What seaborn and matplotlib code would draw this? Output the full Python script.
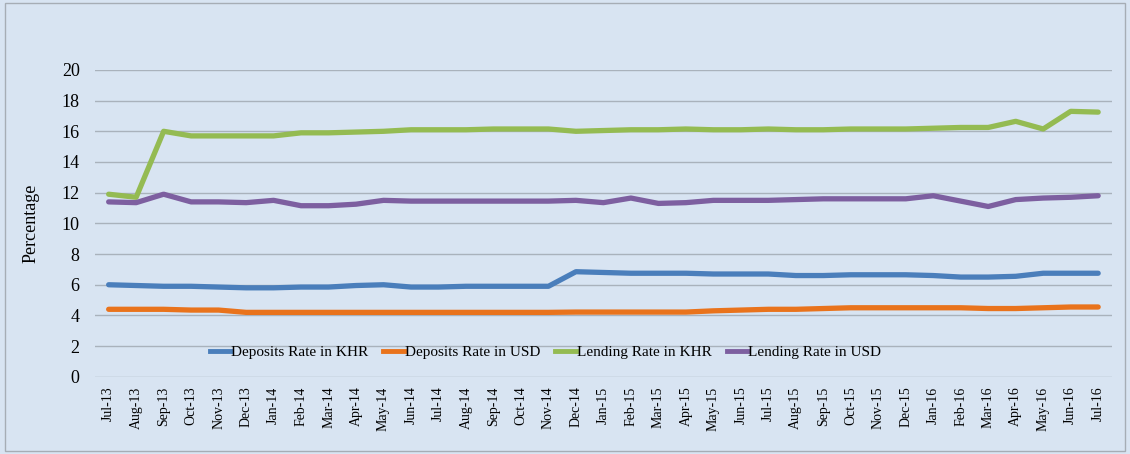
import pandas as pd
import numpy as np
import seaborn as sns
import matplotlib.pyplot as plt
from matplotlib.patches import Rectangle

# monthly labels Jul-13 .. Jul-16
months = ["Jul-13", "Aug-13", "Sep-13", "Oct-13", "Nov-13", "Dec-13",
          "Jan-14", "Feb-14", "Mar-14", "Apr-14", "May-14", "Jun-14",
          "Jul-14", "Aug-14", "Sep-14", "Oct-14", "Nov-14", "Dec-14",
          "Jan-15", "Feb-15", "Mar-15", "Apr-15", "May-15", "Jun-15",
          "Jul-15", "Aug-15", "Sep-15", "Oct-15", "Nov-15", "Dec-15",
          "Jan-16", "Feb-16", "Mar-16", "Apr-16", "May-16", "Jun-16", "Jul-16"]

deposits_khr = [6.0, 5.95, 5.9, 5.9, 5.85, 5.8, 5.8, 5.85, 5.85, 5.95, 6.0, 5.85,
                5.85, 5.9, 5.9, 5.9, 5.9, 6.85, 6.8, 6.75, 6.75, 6.75, 6.7, 6.7,
                6.7, 6.6, 6.6, 6.65, 6.65, 6.65, 6.6, 6.5, 6.5, 6.55, 6.75, 6.75, 6.75]
deposits_usd = [4.4, 4.4, 4.4, 4.35, 4.35, 4.2, 4.2, 4.2, 4.2, 4.2, 4.2, 4.2,
                4.2, 4.2, 4.2, 4.2, 4.2, 4.22, 4.22, 4.22, 4.22, 4.22, 4.3, 4.35,
                4.4, 4.4, 4.45, 4.5, 4.5, 4.5, 4.5, 4.5, 4.45, 4.45, 4.5, 4.55, 4.55]
lending_khr = [11.9, 11.7, 16.0, 15.7, 15.7, 15.7, 15.7, 15.9, 15.9, 15.95, 16.0, 16.1,
               16.1, 16.1, 16.15, 16.15, 16.15, 16.0, 16.05, 16.1, 16.1, 16.15, 16.1, 16.1,
               16.15, 16.1, 16.1, 16.15, 16.15, 16.15, 16.2, 16.25, 16.25, 16.65, 16.15, 17.3, 17.25]
lending_usd = [11.4, 11.35, 11.9, 11.4, 11.4, 11.35, 11.5, 11.15, 11.15, 11.25, 11.5, 11.45,
               11.45, 11.45, 11.45, 11.45, 11.45, 11.5, 11.35, 11.65, 11.3, 11.35, 11.5, 11.5,
               11.5, 11.55, 11.6, 11.6, 11.6, 11.6, 11.8, 11.45, 11.1, 11.55, 11.65, 11.7, 11.8]

series_names = ["Deposits Rate in KHR", "Deposits Rate in USD",
                "Lending Rate in KHR", "Lending Rate in USD"]
colors = ["#4a7ebb", "#e9731c", "#94bb52", "#7d5fa0"]

# long format table for seaborn
df = pd.DataFrame({
    "month": np.tile(np.arange(len(months)), 4),
    "value": deposits_khr + deposits_usd + lending_khr + lending_usd,
    "series": np.repeat(series_names, len(months)),
})

bg = "#d8e4f2"
fig = plt.figure(figsize=(11.3, 4.54), dpi=100, facecolor=bg)
ax = fig.add_axes([0.084, 0.170, 0.900, 0.676])
ax.set_facecolor(bg)
plt.rcParams["font.family"] = ["Liberation Serif", "DejaVu Serif"]

ax.set_axisbelow(True)
ax.yaxis.grid(True, color="#a9b2bc", linewidth=1)
sns.lineplot(data=df, x="month", y="value", hue="series", palette=colors,
             linewidth=3.8, ax=ax, legend=False, solid_capstyle="round")

ax.set_xlim(-0.5, len(months) - 0.5)
ax.set_ylim(0, 20)
ax.set_yticks(range(0, 21, 2))
ax.set_yticklabels([str(v) for v in range(0, 21, 2)], fontsize=13,
                   family="Liberation Serif")
ax.set_xticks(range(len(months)))
ax.set_xticklabels(months, rotation=90, fontsize=10, family="Liberation Serif")
ax.tick_params(axis="both", length=0)
ax.tick_params(axis="y", pad=11)
ax.tick_params(axis="x", pad=7)
for s in ax.spines.values():
    s.set_visible(False)
ax.set_xlabel("")
ax.set_ylabel("Percentage", fontsize=13, family="Liberation Serif", labelpad=16)

handles = [plt.Line2D([0], [0], color=c, linewidth=3.5) for c in colors]
leg = ax.legend(handles, series_names, loc="center", bbox_to_anchor=(0.443, 0.08),
                ncol=4, frameon=False, handlelength=1.35, handletextpad=0.05,
                columnspacing=1.0, prop={"family": "Liberation Serif", "size": 11})

fig.patches.append(Rectangle((0.004, 0.006), 0.992, 0.988, transform=fig.transFigure,
                             fill=False, edgecolor="#a6adb5", linewidth=1))

fig.savefig("out.png", dpi=100, facecolor=bg)
